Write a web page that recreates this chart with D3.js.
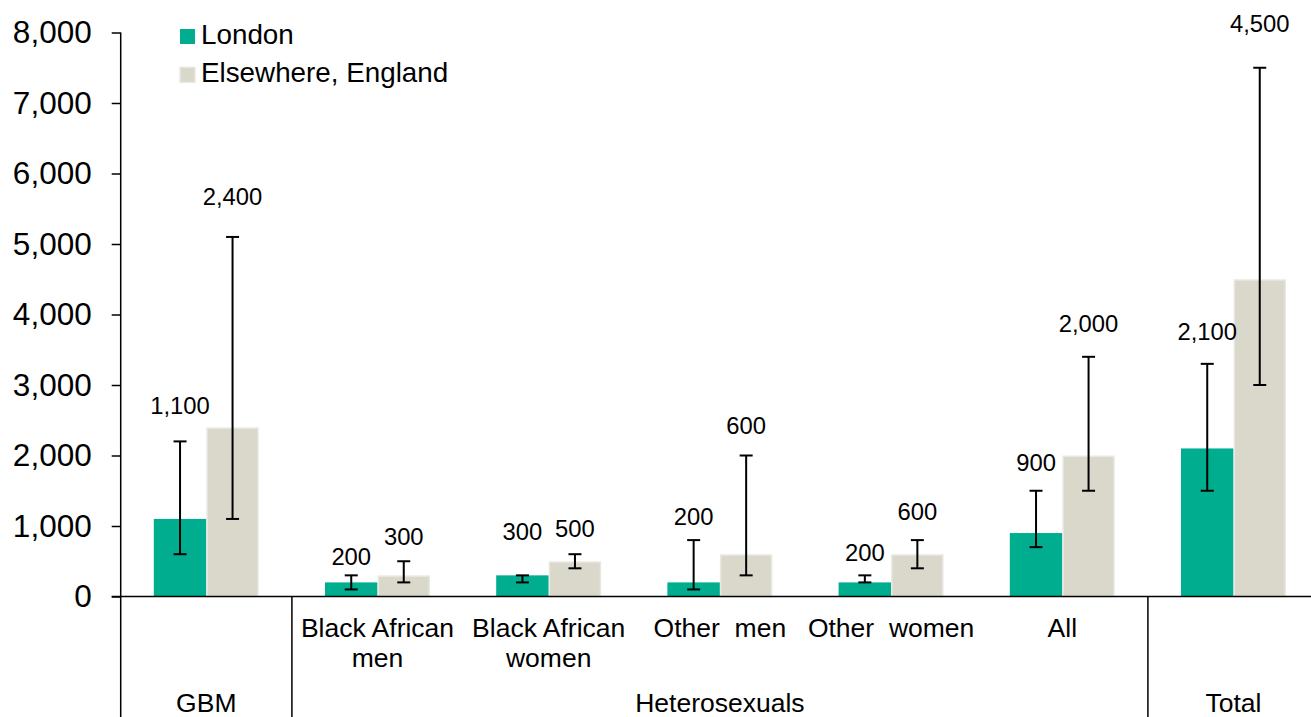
<!DOCTYPE html>
<html><head><meta charset="utf-8">
<script src="https://cdn.jsdelivr.net/npm/d3@7"></script>
<style>
body{margin:0;background:#fff;overflow:hidden}
text{font-family:"Liberation Sans",Arial,sans-serif;fill:#000}
</style>
</head><body>
<svg id="c" width="1311" height="717"></svg>
<script>
// ---------- data ----------
const categories = ["GBM","Black African men","Black African women","Other men","Other women","All","Total"];
const subLabels = ["", "Black African|men", "Black African|women", "Other  men", "Other  women", "All", ""];
const groupLabels = ["GBM","Heterosexuals","Total"];
const groupFirst = ["GBM","Black African men","Total"];
const groupLast  = ["GBM","All","Total"];
const seriesNames = ["London","Elsewhere, England"];
const london     = [1100, 200, 300, 200, 200,  900, 2100];
const londonLow  = [ 600, 100, 200, 100, 200,  700, 1500];
const londonHigh = [2200, 300, 300, 800, 300, 1500, 3300];
const elsewhere     = [2400, 300, 500,  600, 600, 2000, 4500];
const elsewhereLow  = [1100, 200, 400,  300, 400, 1500, 3000];
const elsewhereHigh = [5100, 500, 600, 2000, 800, 3400, 7500];
const yTicks = [0,1000,2000,3000,4000,5000,6000,7000,8000];

// ---------- layout / style ----------
const colors = {"London":"#00AE8F","Elsewhere, England":"#D9D8CB"};
const labelOffsetPx = {
  "London":            [36,19,44,23,23,28,32],
  "Elsewhere, England":[40,25,26,30,28,33,44]
};
const svg = d3.select("#c");
const x0 = 120.7, xEnd = 1319.1, yTop = 32.5, yZero = 596.5;

const x = d3.scaleBand().domain(categories).range([x0, xEnd]).padding(0);
const xs = d3.scaleBand().domain(seriesNames).range([0, x.step()]).paddingInner(0).paddingOuter(0.63);
const y = d3.scaleLinear().domain([0, 8000]).range([yZero, yTop]);

const series = [
  {name:"London", vals:london, lo:londonLow, hi:londonHigh},
  {name:"Elsewhere, England", vals:elsewhere, lo:elsewhereLow, hi:elsewhereHigh}
];

const fmt = d3.format(",");

// bars
series.forEach(s => {
  const g = svg.append("g");
  const isL = s.name === "London";
  g.selectAll("rect").data(categories).join("rect")
    .attr("x", (c) => x(c) + xs(s.name) + (isL ? 0 : 0.75))
    .attr("width", xs.bandwidth() - (isL ? 0 : 1.5))
    .attr("y", (c,i) => y(s.vals[i]) + (isL ? 0 : 0.75))
    .attr("height", (c,i) => yZero - y(s.vals[i]) - (isL ? 0 : 0.75))
    .attr("fill", colors[s.name])
    .attr("stroke", isL ? "none" : "#E9E9E4")
    .attr("stroke-width", 1.5);
});

// error bars
series.forEach(s => {
  const g = svg.append("g").attr("stroke","#000").attr("stroke-width",2);
  categories.forEach((c,i) => {
    const cx = x(c) + xs(s.name) + xs.bandwidth()/2;
    g.append("line").attr("x1",cx).attr("x2",cx).attr("y1",y(s.lo[i])).attr("y2",y(s.hi[i]));
    [s.lo[i], s.hi[i]].forEach(v => {
      g.append("line").attr("x1",cx-6.5).attr("x2",cx+6.5).attr("y1",y(v)).attr("y2",y(v));
    });
  });
});

// data labels
series.forEach(s => {
  svg.append("g").selectAll("text").data(categories).join("text")
    .attr("x", c => x(c) + xs(s.name) + xs.bandwidth()/2)
    .attr("y", (c,i) => y(s.hi[i]) - labelOffsetPx[s.name][i])
    .attr("dy", "0.35em")
    .attr("text-anchor","middle")
    .attr("font-size", "23.8px")
    .text((c,i) => fmt(s.vals[i]));
});

// y axis
const yAxis = d3.axisLeft(y).tickValues(yTicks).tickSize(9).tickPadding(20).tickFormat(fmt);
const ya = svg.append("g").attr("transform", `translate(${x0},0)`).call(yAxis);
ya.select(".domain").remove();
ya.selectAll(".tick line").attr("stroke","#000").attr("stroke-width",1.5);
ya.selectAll(".tick text").attr("font-size","31.5px").attr("font-family","Liberation Sans, Arial, sans-serif").attr("fill","#000");
svg.append("line").attr("x1",x0).attr("x2",x0).attr("y1",yTop).attr("y2",717)
  .attr("stroke","#000").attr("stroke-width",1.5);

// x axis line
svg.append("line").attr("x1",x0-9).attr("x2",1311).attr("y1",yZero).attr("y2",yZero)
  .attr("stroke","#000").attr("stroke-width",1.5);

// group separators
groupFirst.slice(1).forEach(c => {
  svg.append("line").attr("x1",x(c)).attr("x2",x(c)).attr("y1",yZero).attr("y2",717)
    .attr("stroke","#000").attr("stroke-width",1.5);
});

// category labels
categories.forEach((c,i) => {
  const lines = subLabels[i].split("|");
  lines.forEach((ln,j) => {
    if (!ln) return;
    svg.append("text")
      .attr("x", x(c) + x.bandwidth()/2)
      .attr("y", 637 + j*30)
      .attr("text-anchor","middle")
      .attr("font-size","26.5px")
      .style("white-space","pre")
      .attr("xml:space","preserve")
      .text(ln);
  });
});

// group labels
groupLabels.forEach((g,i) => {
  const cx = (x(groupFirst[i]) + x(groupLast[i]) + x.bandwidth())/2;
  svg.append("text").attr("x",cx).attr("y",711.5).attr("text-anchor","middle")
    .attr("font-size","26.5px").text(g);
});

// legend
seriesNames.forEach((n,i) => {
  const ly = 29 + i*38.3;
  svg.append("rect").attr("x",180).attr("y",ly).attr("width",15).attr("height",15)
    .attr("fill",colors[n]).attr("stroke", i ? "#E9E9E4" : "none").attr("stroke-width",1.5);
  svg.append("text").attr("x",201).attr("y",ly+14.5).attr("font-size","27.8px").text(n);
});
</script>
</body></html>
